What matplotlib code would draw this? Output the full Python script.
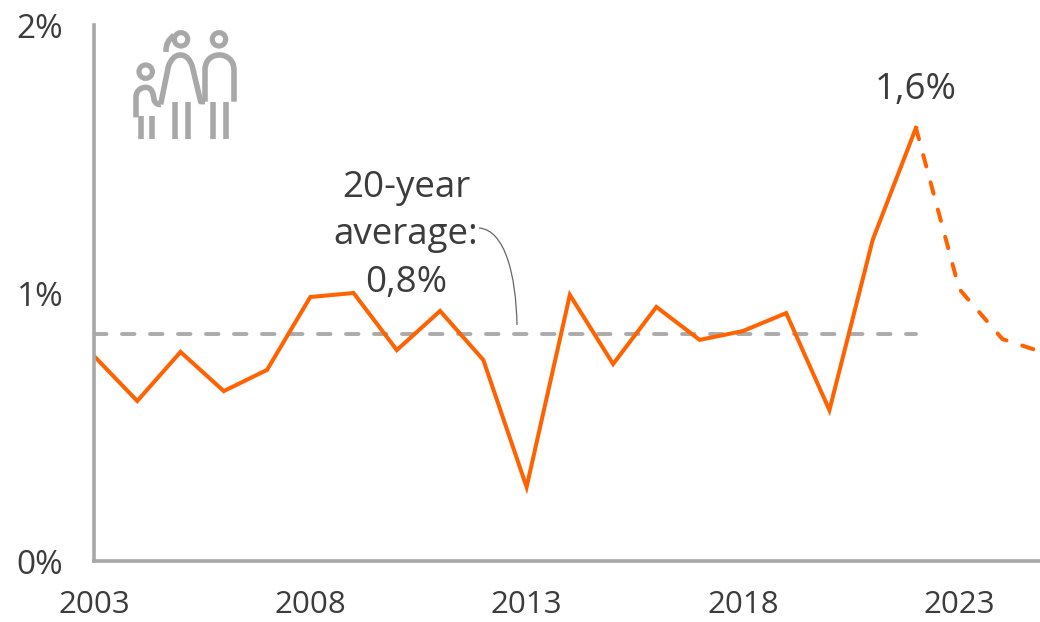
import numpy as np
import matplotlib
matplotlib.use("Agg")
import matplotlib.pyplot as plt
from matplotlib.path import Path
from matplotlib.patches import PathPatch, Circle

plt.rcParams['font.family'] = ['Open Sans', 'DejaVu Sans']

# data
years_actual = [2003, 2004, 2005, 2006, 2007, 2008, 2009, 2010, 2011, 2012,
                2013, 2014, 2015, 2016, 2017, 2018, 2019, 2020, 2021, 2022]
values_actual = [0.765, 0.597, 0.78, 0.634, 0.713, 0.985, 1.0, 0.787, 0.933, 0.75,
                 0.276, 0.993, 0.735, 0.948, 0.825, 0.858, 0.925, 0.563, 1.198, 1.616]
years_forecast = [2022, 2023, 2024, 2025]
values_forecast = [1.616, 1.015, 0.828, 0.775]
years_average = [2003, 2022]
values_average = [0.847, 0.847]
x_ticks = [2003, 2008, 2013, 2018, 2023]
y_ticks = [0, 1, 2]
y_tick_labels = ["0%", "1%", "2%"]

ORANGE = "#FF6200"
GREY = "#A8A8A8"
TEXT = "#3C3C3C"
W, H = 1040, 622

fig = plt.figure(figsize=(W / 100, H / 100), dpi=100)
ax = fig.add_axes([94 / W, 1 - 561 / H, 946 / W, 536 / H])

ax.plot(years_average, values_average, color="#ABABAB", lw=2.8, dashes=(3.2, 4.0), dash_capstyle="round")
ax.plot(years_forecast, values_forecast, color=ORANGE, lw=2.9, dashes=(2.9, 4.1), dash_capstyle="round")
ax.plot(years_actual, values_actual, color=ORANGE, lw=2.9, solid_joinstyle="miter")

ax.set_xlim(2003, 2003 + 946 / 43.26)
ax.set_ylim(0, 2)
ax.set_xticks(x_ticks)
ax.set_yticks(y_ticks)
ax.set_yticklabels(y_tick_labels, fontsize=24)
ax.tick_params(length=0, labelcolor=TEXT)
ax.tick_params(axis="x", pad=21, labelsize=22.5)
ax.tick_params(axis="y", pad=22)

for s in ["top", "right"]:
    ax.spines[s].set_visible(False)
for s in ["left", "bottom"]:
    ax.spines[s].set_color(GREY)
    ax.spines[s].set_linewidth(2.6)

# overlay in pixel coords for the icon and the annotation
ov = fig.add_axes([0, 0, 1, 1])
ov.set_xlim(0, W)
ov.set_ylim(H, 0)
ov.axis("off")
ov.patch.set_alpha(0)

ov.text(406, 188, "20-year", fontsize=26.5, color=TEXT, ha="center", va="center")
ov.text(406, 235, "average:", fontsize=26.5, color=TEXT, ha="center", va="center")
ov.text(406, 283, "0,8%", fontsize=26.5, color=TEXT, ha="center", va="center")
ov.text(916, 90, "1,6%", fontsize=26.5, color=TEXT, ha="center", va="center")

leader = Path([(479, 228), (505, 230), (516, 275), (517, 325)],
              [Path.MOVETO, Path.CURVE4, Path.CURVE4, Path.CURVE4])
ov.add_patch(PathPatch(leader, fc="none", ec="#666666", lw=0.9))


# icon
def ic(x, y):
    return (110 + x / 3, 10 + y / 3)


def stroke(verts, codes=None):
    verts = [ic(*v) for v in verts]
    if codes is None:
        codes = [Path.MOVETO] + [Path.LINETO] * (len(verts) - 1)
    ov.add_patch(PathPatch(Path(verts, codes), fc="none", ec=GREY, lw=4.0,
                           capstyle="butt", joinstyle="round"))


for hx, hy in [(107, 185), (213, 88), (327, 88)]:
    cx, cy = ic(hx, hy)
    ov.add_patch(Circle((cx, cy), 6.7, fc="none", ec=GREY, lw=3.7))

C = Path.CURVE4
M = Path.MOVETO
L = Path.LINETO
# child
stroke([(78, 322), (78, 262), (78, 240), (95, 232), (107, 232),
        (125, 232), (130, 250), (132, 268), (134, 280), (145, 285), (152, 283)],
       [M, L, C, C, C, C, C, C, C, C, C])
# mother
stroke([(152, 283), (175, 170), (182, 148), (195, 135), (211, 135),
        (228, 135), (240, 148), (247, 170), (272, 275), (285, 275)],
       [M, L, C, C, C, C, C, C, L, L])
stroke([(168, 126), (168, 100), (175, 90), (192, 76)], [M, C, C, C])
# father
stroke([(285, 275), (285, 180), (285, 150), (305, 135), (328, 135),
        (350, 135), (372, 150), (372, 180), (372, 275)],
       [M, L, C, C, C, C, C, C, L])
# legs
for lx, y0 in [(93, 318), (125, 318), (195, 275), (233, 275), (308, 275), (347, 275)]:
    stroke([(lx, y0), (lx, 388)])

fig.savefig("out.png", dpi=100)
